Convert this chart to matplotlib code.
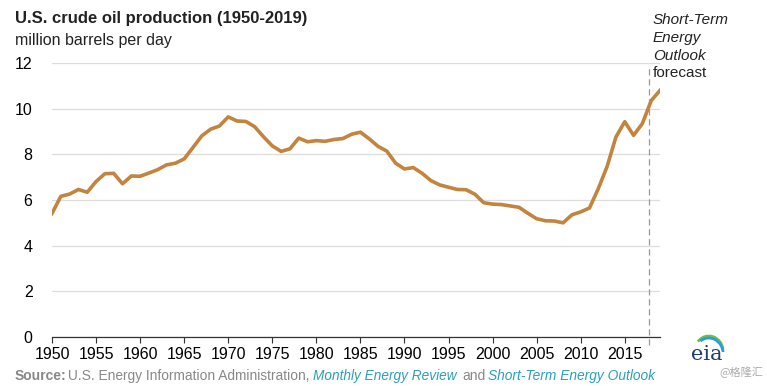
"""U.S. crude oil production 1950-2019, EIA style line chart."""
import matplotlib

matplotlib.use("Agg")
import matplotlib.pyplot as plt  # noqa: E402
from matplotlib.patches import Arc  # noqa: E402

plt.rcParams["font.family"] = ["Liberation Sans", "DejaVu Sans"]

YEARS = list(range(1950, 2020))
PRODUCTION = [5.41, 6.16, 6.26, 6.46, 6.34, 6.81, 7.15, 7.17, 6.71, 7.05,
              7.04, 7.18, 7.33, 7.54, 7.61, 7.80, 8.30, 8.81, 9.10, 9.24,
              9.64, 9.46, 9.44, 9.21, 8.77, 8.37, 8.13, 8.24, 8.71, 8.55,
              8.60, 8.57, 8.65, 8.69, 8.88, 8.97, 8.68, 8.35, 8.14, 7.61,
              7.36, 7.42, 7.17, 6.85, 6.66, 6.56, 6.46, 6.45, 6.25, 5.88,
              5.82, 5.80, 5.74, 5.68, 5.42, 5.18, 5.09, 5.08, 5.00, 5.35,
              5.48, 5.65, 6.50, 7.47, 8.76, 9.43, 8.83, 9.35, 10.35, 10.80]
XTICKS = list(range(1950, 2020, 5))
YTICKS = [0, 2, 4, 6, 8, 10, 12]
FORECAST_START = 2017.75
FORECAST_LABEL = [("Short-Term", "italic"), ("Energy", "italic"),
                  ("Outlook", "italic"), ("forecast", "normal")]

LINE = "#c2843f"
TEAL = "#2a9fbc"

fig = plt.figure(figsize=(7.67, 3.86), dpi=100)
ax = fig.add_axes([52 / 767, 1 - 337 / 386, 608 / 767, 274 / 386])
ax.plot(YEARS, PRODUCTION, color=LINE, lw=2.6, solid_joinstyle="round", zorder=3)
ax.set_xlim(1950, 2019)
ax.set_ylim(0, 12)
ax.set_xticks(XTICKS)
ax.set_yticks(YTICKS)
ax.tick_params(axis="x", length=4, width=0.8, color="#333333", labelsize=11.5, pad=3)
ax.tick_params(axis="y", length=0, labelsize=11.5, pad=14)
ax.grid(True, axis="y", color="#dddddd", lw=0.9)
for s in ["top", "right", "left"]:
    ax.spines[s].set_visible(False)
ax.spines["bottom"].set_color("#333333")
ax.spines["bottom"].set_linewidth(0.9)
ax.axvline(FORECAST_START, ymin=-0.03, ymax=0.99, color="#999999", lw=0.9,
           ls=(0, (5, 3)), clip_on=False, zorder=2)

fig.text(15 / 767, 1 - 19 / 386, "U.S. crude oil production (1950-2019)",
         fontsize=12, fontweight="bold", color="#222222", va="center")
fig.text(15 / 767, 1 - 41 / 386, "million barrels per day",
         fontsize=11.5, color="#222222", va="center")
for i, (txt, st) in enumerate(FORECAST_LABEL):
    fig.text(653 / 767, 1 - (20 + 17.8 * i) / 386, txt, fontsize=11, style=st,
             color="#222222", va="center")

# source line: styled pieces; the long ones are fitted to their span (px) in the reference
pieces = [(15, None, "Source:", dict(fontweight="bold", color="#888888")),
          (68, 310, "U.S. Energy Information Administration,", dict(color="#888888")),
          (313, 457, "Monthly Energy Review", dict(style="italic", color=TEAL)),
          (462, None, "and", dict(color="#888888")),
          (488, 655, "Short-Term Energy Outlook", dict(style="italic", color=TEAL))]
renderer = fig.canvas.get_renderer()
for x0, x1, txt, kw in pieces:
    t = fig.text(x0 / 767, 1 - 376 / 386, txt, fontsize=10, va="center", **kw)
    if x1 is not None:
        w = t.get_window_extent(renderer).width
        t.set_fontsize(min(10.6, max(9.4, 10 * (x1 - x0) / w)))

# eia logo and watermark
fig.text(707 / 767, 1 - 355 / 386, "eia", fontsize=15, family="DejaVu Serif",
         color="#1f3f6e", ha="center", va="center")
lax = fig.add_axes([689 / 767, 1 - 352 / 386, 36 / 767, 20 / 386])
lax.set_xlim(0, 1)
lax.set_ylim(0, 1)
lax.axis("off")
lax.add_patch(Arc((0.55, 0.0), 0.8, 1.6, theta1=20, theta2=120, color="#6cc04a", lw=2))
lax.add_patch(Arc((0.55, -0.1), 0.8, 1.6, theta1=10, theta2=110, color="#2a9fd6", lw=2))
fig.text(763 / 767, 1 - 372 / 386, "@格隆汇", fontsize=8, color="#aaaaaa",
         ha="right", va="center", family=["Noto Sans CJK SC", "DejaVu Sans"])

fig.savefig("out.png", dpi=100)
